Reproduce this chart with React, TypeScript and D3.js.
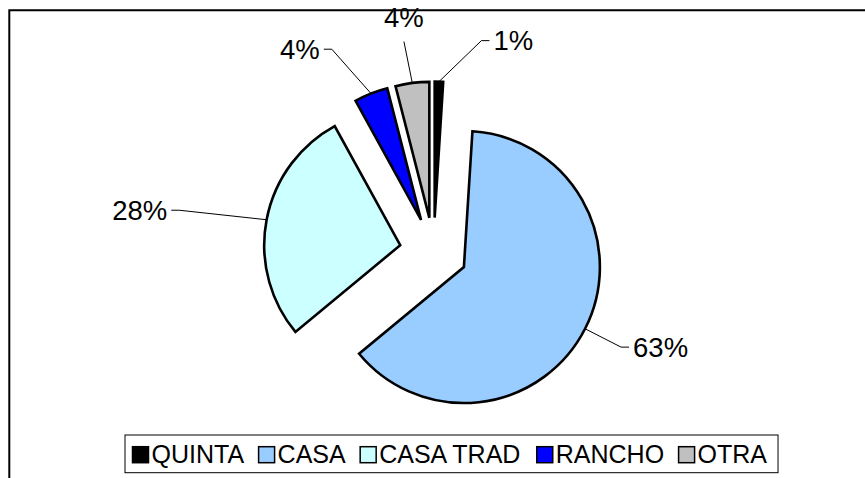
import * as d3 from 'd3';

// share of dwellings by type (%)
const categories = ['QUINTA', 'CASA', 'CASA TRAD', 'RANCHO', 'OTRA'];
const shares = [1, 63, 28, 4, 4];
const colors = ['#000000', '#99CCFF', '#CCFFFF', '#0000FF', '#C0C0C0'];

const width = 865;
const height = 478;
const cx = 433.6;
const cy = 251.6;
const radius = 136;
const explode = 34;
const font = "'Liberation Sans', Arial, sans-serif";
const labelSize = 27.5;
const legendSize = 25;

// where each data label sits: radius factor, angle nudge (deg), placement
const labelLayout = [
    { f: 1.346, nudge: 13, mode: 'side' },
    { f: 1.297, nudge: 0, mode: 'side' },
    { f: 1.645, nudge: -1.8, mode: 'side' },
    { f: 1.417, nudge: -6, mode: 'side' },
    { f: 1.31, nudge: -1, mode: 'top' },
];

const measure = (() => {
    const ctx = document.createElement('canvas').getContext('2d');
    return (text, size) => {
        if (!ctx) return text.length * size * 0.6;
        ctx.font = `${size}px ${font}`;
        return ctx.measureText(text).width;
    };
})();

function PieChart() {
    const total = d3.sum(shares);
    const pct = d3.format('.0%');
    const pie = d3.pie().sort(null).value((d) => d)(shares);
    const arc = d3.arc().innerRadius(0).outerRadius(radius);

    const slices = pie.map((p, i) => {
        const mid = (p.startAngle + p.endAngle) / 2;
        const ox = cx + explode * Math.sin(mid);
        const oy = cy - explode * Math.cos(mid);
        const px = ox + radius * Math.sin(mid);
        const py = oy - radius * Math.cos(mid);
        const lay = labelLayout[i];
        const la = mid + (lay.nudge * Math.PI) / 180;
        const bx = ox + radius * lay.f * Math.sin(la);
        const by = oy - radius * lay.f * Math.cos(la);
        return { p, i, mid, ox, oy, px, py, bx, by, lay };
    });

    // legend layout
    const marker = 16;
    const legendTop = 435;
    const legendH = 37.7;
    let lx = 132.5;
    const items = categories.map((c, i) => {
        const w = measure(c, legendSize);
        const item = { c, i, x: lx, w };
        lx += 19 + w + 14.5;
        return item;
    });
    const legendLeft = 125;
    const legendRight = items[items.length - 1].x + 19 + items[items.length - 1].w + 11;

    return (
        <svg width={width} height={height} style={{ position: 'absolute', left: 0, top: 0, fontFamily: font }}>
            <rect x={0} y={0} width={width} height={height} fill="#fff" />
            <path d={`M9.3,${height + 5}V10.3H${width + 5}`} fill="none" stroke="#000" strokeWidth={2} />
            <g>
                {slices.map((s) => (
                    <path
                        key={s.i}
                        d={arc(s.p)}
                        transform={`translate(${s.ox},${s.oy})`}
                        fill={colors[s.i]}
                        stroke="#000"
                        strokeWidth={2.6}
                        strokeLinejoin="miter"
                    />
                ))}
            </g>
            <g fontSize={labelSize} fill="#000">
                {slices.map((s) => {
                    const label = pct(shares[s.i] / total);
                    if (s.lay.mode === 'top') {
                        return (
                            <g key={s.i}>
                                <path d={`M${s.px},${s.py}L${s.bx},${s.by}`} stroke="#000" strokeWidth={1} fill="none" />
                                <text x={s.bx} y={s.by - 15} textAnchor="middle">{label}</text>
                            </g>
                        );
                    }
                    const dir = s.bx > s.px ? 1 : -1;
                    const tx = s.bx + dir * 8;
                    return (
                        <g key={s.i}>
                            <path d={`M${s.px},${s.py}L${s.bx},${s.by}H${tx}`} stroke="#000" strokeWidth={1} fill="none" />
                            <text
                                x={tx + dir * 4}
                                y={s.by + labelSize * 0.358}
                                textAnchor={dir > 0 ? 'start' : 'end'}
                            >
                                {label}
                            </text>
                        </g>
                    );
                })}
            </g>
            <g>
                <rect
                    x={legendLeft}
                    y={legendTop}
                    width={legendRight - legendLeft}
                    height={legendH}
                    fill="#fff"
                    stroke="#000"
                    strokeWidth={1}
                />
                {items.map((it) => (
                    <g key={it.i}>
                        <rect
                            x={it.x}
                            y={446.7}
                            width={marker}
                            height={marker}
                            fill={colors[it.i]}
                            stroke="#000"
                            strokeWidth={1.5}
                        />
                        <text x={it.x + 19} y={462.5} fontSize={legendSize} fill="#000">
                            {it.c}
                        </text>
                    </g>
                ))}
            </g>
        </svg>
    );
}

export default function App() {
    return <PieChart />;
}
